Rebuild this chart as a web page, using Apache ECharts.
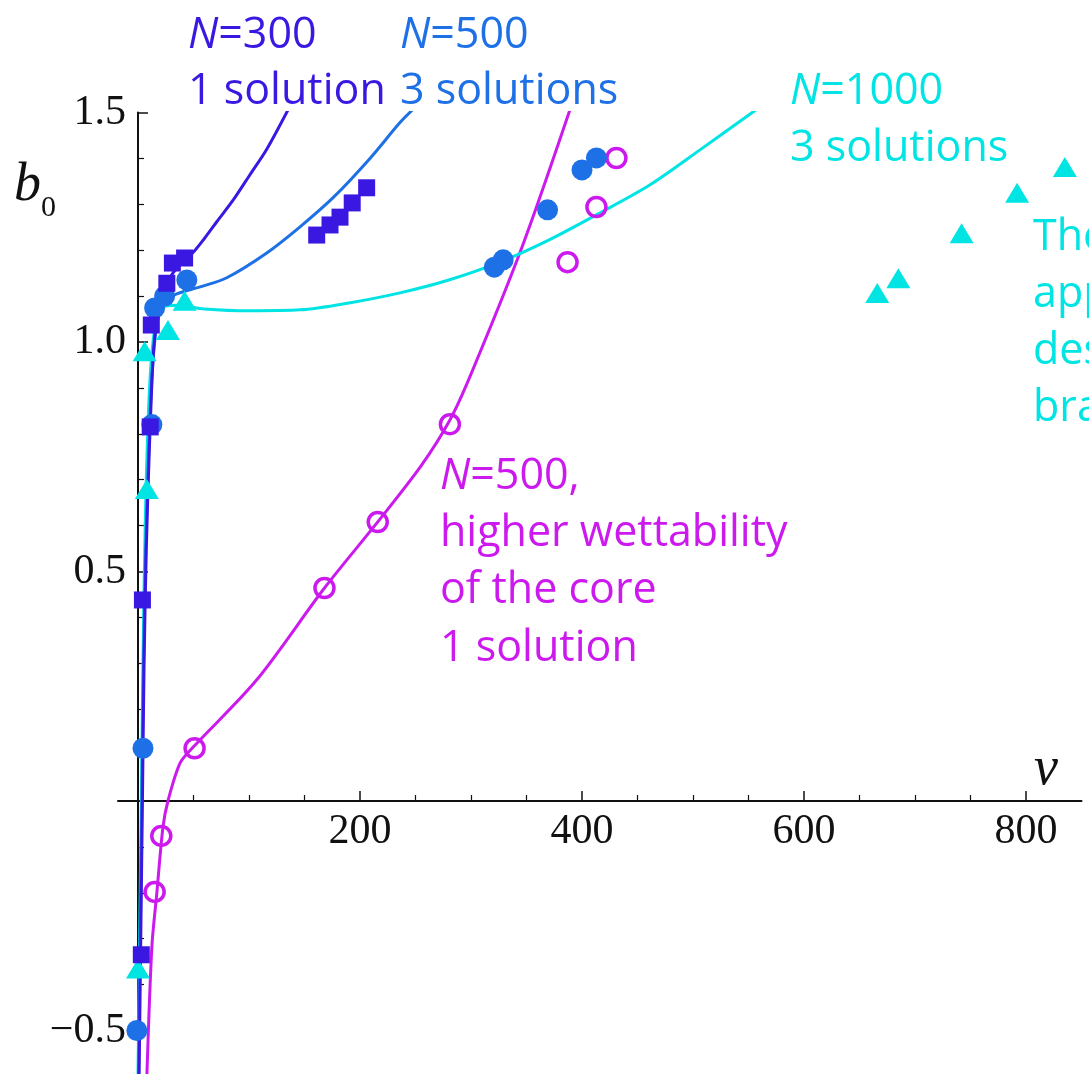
<!DOCTYPE html>
<html><head><meta charset="utf-8">
<script src="https://cdn.jsdelivr.net/npm/echarts@6/dist/echarts.min.js"></script>
<style>html,body{margin:0;padding:0;background:#fff}#c{width:1089px;height:1074px}</style>
</head><body><div id="c"></div>
<script>
// ---- axis ticks / labels ----
const xMajorTicks = [200, 400, 600, 800];
const xMinorTicks = [50, 100, 150, 250, 300, 350, 450, 500, 550, 650, 700, 750];
const yMajorTicks = [-0.5, 0.5, 1.0, 1.5];
const yMinorTicks = [-0.4, -0.3, -0.2, -0.1, 0.1, 0.2, 0.3, 0.4, 0.6, 0.7, 0.8, 0.9, 1.1, 1.2, 1.3, 1.4];

// ---- fitted curves (nu, b0) ----
const curveN300 = [[1,-0.6],[2.5,-0.3],[4,0],[5.5,0.3],[7.5,0.55],[10,0.75],[12,0.88],[14,0.98],[17,1.05],[22,1.1],[30,1.145],[42,1.18],[50,1.196],[60,1.226],[71,1.262],[86,1.31],[101,1.365],[116,1.42],[135,1.505]];
const curveN500 = [[0.5,-0.6],[2,-0.3],[3.5,0],[5,0.3],[7,0.55],[9.5,0.75],[12,0.9],[15,1.0],[19,1.06],[25,1.09],[35,1.105],[56,1.12],[80,1.14],[116,1.194],[146,1.251],[176,1.315],[209,1.4],[236,1.478],[247,1.505]];
const curveN1000 = [[0,-0.6],[1.5,-0.3],[3,0],[4.5,0.3],[6.5,0.6],[9,0.82],[12,0.96],[16,1.04],[22,1.075],[35,1.08],[60,1.072],[100,1.068],[146,1.07],[190,1.085],[236,1.107],[280,1.135],[326,1.174],[370,1.222],[416,1.281],[461,1.342],[506,1.418],[558,1.508]];
const curveWet = [[8,-0.6],[12.5,-0.318],[17,-0.2],[22.5,-0.057],[27,0],[38,0.083],[50,0.118],[107,0.264],[168,0.464],[216,0.608],[255,0.73],[281,0.83],[300,0.93],[346,1.207],[389,1.505]];

// ---- data points (nu, b0) ----
const pointsN300 = [[3,-0.335],[4,0.438],[11,0.815],[12,1.037],[26,1.128],[31,1.172],[42,1.183],[161,1.233],[173,1.255],[182,1.272],[193,1.303],[206,1.336]];
const pointsN500 = [[-1,-0.5],[4.5,0.115],[12.5,0.82],[15,1.074],[24,1.1],[44,1.135],[321,1.163],[329,1.179],[369,1.288],[400,1.375],[413,1.401]];
const pointsN1000 = [[0,-0.365],[8,0.68],[6,0.98],[27,1.026],[42,1.09],[666,1.107],[685,1.139],[742,1.237],[792,1.325],[835,1.381]];
const pointsWet = [[15,-0.198],[21,-0.076],[51,0.115],[168,0.464],[216,0.608],[281,0.821],[387,1.174],[413,1.294],[431,1.401]];

const C300 = '#3a18e2', C500 = '#1e70e6', C1000 = '#00e4e4', CWET = '#cc1aee';
const TEXT_FONT = 'Open Sans';
const TEXT_SIZE = 43;
const TICK_FONT = 42;

// grid geometry
const GRID = {left: 118, top: 112.5, width: 963.5, height: 963.9};
const X_MIN = -18, X_MAX = 850, Y_MIN = -0.6, Y_MAX = 1.5;
// In this ECharts build labels of an on-zero axis stay at the grid edge; shift them to the zero line.
const zeroFromBottom = GRID.height * (0 - Y_MIN) / (Y_MAX - Y_MIN);
const zeroFromLeft = GRID.width * (0 - X_MIN) / (X_MAX - X_MIN);

const chart = echarts.init(document.getElementById('c'), null, {renderer: 'canvas'});

const xBase = {type: 'value', min: X_MIN, max: X_MAX, position: 'bottom', splitLine: {show: false}};
const yBase = {type: 'value', min: Y_MIN, max: Y_MAX, position: 'left', splitLine: {show: false}};
const fmt = v => (v < 0 ? '\u2212' : '') + Math.abs(v).toFixed(1);

function lineSeries(data, color) {
  return {type: 'line', data: data, smooth: 0.3, showSymbol: false, symbol: 'none',
    lineStyle: {color: color, width: 3}, itemStyle: {color: color}, silent: true, clip: true, z: 2};
}
function txt(x, y, str, color) {
  return {type: 'text', x: x, y: y, silent: true, z: 20,
    style: {text: str, fill: color, fontSize: TEXT_SIZE, fontFamily: TEXT_FONT, verticalAlign: 'middle', align: 'left',
      rich: {i: {fontStyle: 'italic', fontSize: TEXT_SIZE, fontFamily: TEXT_FONT, fill: color}}}};
}

const option = {
  animation: false,
  backgroundColor: '#fff',
  grid: Object.assign({containLabel: false, outerBoundsMode: 'none'}, GRID),
  xAxis: [
    Object.assign({}, xBase, {
      axisLine: {onZero: true, onZeroAxisIndex: 0, lineStyle: {color: '#111', width: 2}},
      axisTick: {show: true, inside: true, length: 10, customValues: xMajorTicks, lineStyle: {color: '#111', width: 1.5}},
      axisLabel: {show: true, customValues: xMajorTicks, formatter: v => String(v), fontFamily: 'Liberation Serif', fontSize: TICK_FONT, color: '#111', margin: 10 - zeroFromBottom}
    }),
    Object.assign({}, xBase, {
      axisLine: {show: false, onZero: true, onZeroAxisIndex: 0},
      axisTick: {show: true, inside: true, length: 6, customValues: xMinorTicks, lineStyle: {color: '#111', width: 1.2}},
      axisLabel: {show: false}
    })
  ],
  yAxis: [
    Object.assign({}, yBase, {
      axisLine: {onZero: true, onZeroAxisIndex: 0, lineStyle: {color: '#111', width: 2}},
      axisTick: {show: true, inside: true, length: 10, customValues: yMajorTicks, lineStyle: {color: '#111', width: 1.5}},
      axisLabel: {show: true, customValues: yMajorTicks, formatter: fmt, fontFamily: 'Liberation Serif', fontSize: TICK_FONT, color: '#111', margin: 12 - zeroFromLeft}
    }),
    Object.assign({}, yBase, {
      axisLine: {show: false, onZero: true, onZeroAxisIndex: 0},
      axisTick: {show: true, inside: true, length: 6, customValues: yMinorTicks, lineStyle: {color: '#111', width: 1.2}},
      axisLabel: {show: false}
    })
  ],
  series: [
    lineSeries(curveWet, CWET),
    lineSeries(curveN1000, C1000),
    lineSeries(curveN500, C500),
    lineSeries(curveN300, C300),
    {type: 'scatter', data: pointsWet, symbol: 'circle', symbolSize: 19, silent: true, z: 3,
      itemStyle: {color: 'rgba(255,255,255,0)', borderColor: CWET, borderWidth: 3.5, opacity: 1}},
    {type: 'scatter', data: pointsN1000, symbol: 'triangle', symbolSize: [24, 20], silent: true, z: 3,
      itemStyle: {color: C1000, opacity: 1}},
    {type: 'scatter', data: pointsN500, symbol: 'circle', symbolSize: 21, silent: true, z: 3,
      itemStyle: {color: C500, opacity: 1}},
    {type: 'scatter', data: pointsN300, symbol: 'rect', symbolSize: 17, silent: true, z: 3,
      itemStyle: {color: C300, opacity: 1}}
  ],
  graphic: [
    txt(188, 36, '{i|N}=300', C300),
    txt(188, 92, '1 solution', C300),
    txt(400, 36, '{i|N}=500', C500),
    txt(400, 92, '3 solutions', C500),
    txt(790, 92, '{i|N}=1000', C1000),
    txt(790, 149, '3 solutions', C1000),
    txt(440, 477, '{i|N}=500,', CWET),
    txt(440, 534, 'higher wettability', CWET),
    txt(440, 591, 'of the core', CWET),
    txt(440, 649, '1 solution', CWET),
    txt(1033, 238, 'The', C1000),
    txt(1033, 295, 'app', C1000),
    txt(1033, 352, 'des', C1000),
    txt(1033, 409, 'bra', C1000),
    {type: 'text', x: 14, y: 186, silent: true, z: 20,
      style: {text: 'b', fontFamily: 'Liberation Serif', fontStyle: 'italic', fontSize: 54, fill: '#111', verticalAlign: 'middle'}},
    {type: 'text', x: 41, y: 208, silent: true, z: 20,
      style: {text: '0', fontFamily: 'Liberation Serif', fontSize: 30, fill: '#111', verticalAlign: 'middle'}},
    {type: 'text', x: 1034, y: 770, silent: true, z: 20,
      style: {text: '\u03bd', fontFamily: 'Liberation Serif', fontStyle: 'italic', fontSize: 54, fill: '#111', verticalAlign: 'middle'}}
  ]
};
chart.setOption(option);
</script>
</body></html>
